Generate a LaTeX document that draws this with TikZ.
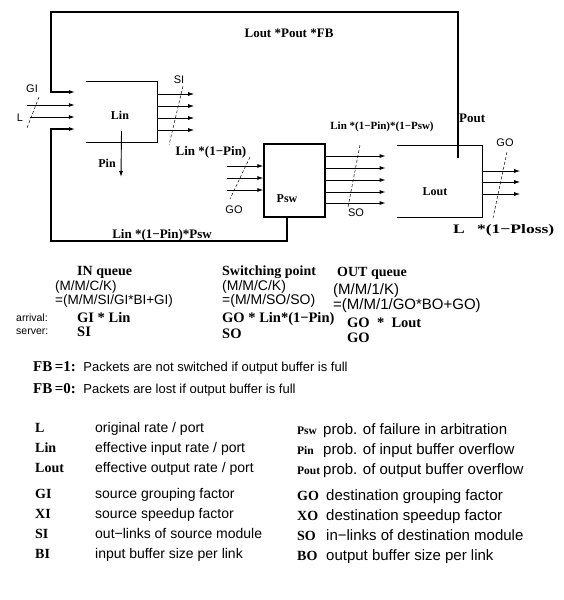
\documentclass[tikz,border=0pt]{standalone}
\usepackage{fontspec}
\usepackage{graphicx}
\setmainfont{Liberation Serif}
\setsansfont{Liberation Sans}
\usetikzlibrary{arrows.meta}

\tikzset{
  var/.style={font=\bfseries\fontsize{12}{12}\selectfont,inner sep=0pt},
  lab/.style={font=\bfseries\fontsize{13}{13}\selectfont,inner sep=0pt},
  tag/.style={font=\sffamily\fontsize{11}{11}\selectfont,inner sep=0pt},
  head/.style={font=\bfseries\fontsize{14}{14}\selectfont,inner sep=0pt,anchor=west},
  rate/.style={font=\bfseries\fontsize{14.5}{14.5}\selectfont,inner sep=0pt,anchor=west},
  kend/.style={font=\sffamily\fontsize{13.5}{12}\selectfont,inner sep=0pt,anchor=west,align=left},
  role/.style={font=\sffamily\fontsize{10.5}{10.5}\selectfont,inner sep=0pt,anchor=west},
  sym/.style={font=\bfseries\fontsize{11.5}{11.5}\selectfont,inner sep=0pt,anchor=base west},
  bsym/.style={font=\bfseries\fontsize{14}{14}\selectfont,inner sep=0pt,anchor=base west},
  desc/.style={font=\sffamily\fontsize{14}{14}\selectfont,inner sep=0pt,anchor=base west},
  rdesc/.style={font=\sffamily\fontsize{15}{15}\selectfont,inner sep=0pt,anchor=base west},
  flow/.style={-{Latex[length=6pt,width=4pt]},line width=0.9pt},
  loopline/.style={-{Latex[length=6pt,width=4pt]},line width=1.1pt},
  group/.style={densely dashed,line width=0.5pt},
  queue/.style={line width=1.3pt},
}

\begin{document}
\begin{tikzpicture}[x=1pt,y=-1pt]
    \useasboundingbox (0,0) rectangle (563,600);
    % input queue
    \node[minimum width=71pt,minimum height=60pt,inner sep=0pt] (lin) at (121.5,112) {};
    \draw[queue] (lin.north west) -- (lin.north east) -- (lin.south east) -- (lin.south west);
    \node[var] (linl) at (120,115) {Lin};
    \foreach \y/\s in {105/27,117/30}
      \draw[flow] (\s,\y) -- ([xshift=-11pt]lin.west |- 0,\y);
    \draw[group] (39,97) -- (27,128);
    \node[tag] (gi) at (32,89) {GI};
    \node[tag] (l) at (20,118) {L};
    \foreach \y in {94,106,118,130}
      \draw[flow] (lin.east |- 0,\y) -- ++(37,0);
    \draw[group] (183,86) -- (169,145);
    \node[tag] (si) at (179,80) {SI};
    \node[lab] (linpin) at (211,152) {Lin *(1−Pin)};
    \coordinate (pinend) at (121,177);
    \draw[flow] ([yshift=-19pt]lin.center) -- (pinend);
    \node[var] (pin) at (107,163) {Pin};
    % switching point
    \node[draw,queue,minimum width=61pt,minimum height=73pt,inner sep=0pt] (psw) at (294.5,180.5) {};
    \node[var] (pswl) at (287,199) {Psw};
    \foreach \y in {166,178,190}
      \draw[flow] (227,\y) -- (psw.west |- 0,\y);
    \draw[group] (250,157) -- (230,199);
    \node[tag] (goin) at (234,210) {GO};
    \foreach \y in {156,168,180,192,203}
      \draw[flow] (psw.east |- 0,\y) -- ++(60,0);
    \draw[group] (360,145) -- (348,207);
    \node[tag] (so) at (356,213) {SO};
    \node[var,font=\bfseries\fontsize{11}{11}\selectfont] (linpsw) at (382,127) {Lin *(1−Pin)*(1−Psw)};
    % output queue
    \node[minimum width=85pt,minimum height=71pt,inner sep=0pt] (lout) at (439.5,181.5) {};
    \draw[queue] (lout.north west) -- (lout.north east) -- (lout.south east) -- (lout.south west);
    \node[var] (loutl) at (435,192) {Lout};
    \foreach \y in {171,182,194}
      \draw[flow] (lout.east |- 0,\y) -- ++(38,0);
    \draw[group] (507,152) -- (493,218);
    \node[tag] (goout) at (505,143) {GO};
    \node[lab,anchor=west] (ploss) at (453,230) {\scalebox{1.35}[1]{L\hspace{9pt}*(1−Ploss)}};
    % feedback loops
    \coordinate (tap) at (458,158);
    \coordinate (fbin) at (75,92);
    \coordinate (swin) at (75,129);
    \draw[loopline] (tap) |- (51,12) |- (fbin);
    \draw[loopline] ([xshift=-7.5pt]psw.south) |- (51,241) |- (swin);
    \node[lab,anchor=west] (pout) at (459,118) {Pout};
    \node[lab] (fb) at (289,33) {Lout *Pout *FB};
    \node[lab] (linback) at (162,235) {Lin *(1−Pin)*Psw};
    % queue models
    \node[head] (inq) at (77,272) {IN queue};
    \node[kend] (inkend) at (55,294) {(M/M/C/K)\\=(M/M/SI/GI*BI+GI)};
    \node[head] (swq) at (222,272) {Switching point};
    \node[kend,font=\sffamily\fontsize{14}{12}\selectfont] (swkend) at (222,294) {(M/M/C/K)\\=(M/M/SO/SO)};
    \node[head] (outq) at (337,273) {OUT queue};
    \node[kend,font=\sffamily\fontsize{15}{12.5}\selectfont] (outkend) at (333,298) {(M/M/1/K)\\=(M/M/1/GO*BO+GO)};
    \node[role] (arr) at (16,318) {arrival:};
    \node[role] (srv) at (16,332) {server:};
    \node[rate] (inarr) at (77,318) {GI * Lin};
    \node[rate] (insrv) at (77,332) {SI};
    \node[rate] (swarr) at (222,319) {GO * Lin*(1−Pin)};
    \node[rate] (swsrv) at (222,334) {SO};
    \node[rate] (outarr) at (347,323) {GO \ * \ Lout};
    \node[rate] (outsrv) at (347,338) {GO};
    % feedback switch
    \node[rate,font=\bfseries\fontsize{15}{15}\selectfont] (fb1) at (33,368) {FB\,=1:\, \mdseries\sffamily\fontsize{13}{13}\selectfont Packets are not switched if output buffer is full};
    \node[rate,font=\bfseries\fontsize{15}{15}\selectfont] (fb0) at (33,390) {FB\,=0:\, \mdseries\sffamily\fontsize{13}{13}\selectfont Packets are lost if output buffer is full};
    % glossary
    \foreach \n/\d/\y in {L/{original rate / port}/432,Lin/{effective input rate / port}/452,
        Lout/{effective output rate / port}/472,GI/{source grouping factor}/498,
        XI/{source speedup factor}/518,SI/{out−links of source module}/538,
        BI/{input buffer size per link}/558}{
      \node[bsym] (n\n) at (35,\y) {\n};
      \node[desc] (d\n) at (95,\y) {\d};
    }
    \foreach \n/\d/\y/\x/\s in {Psw/{prob. of failure in arbitration}/434/323/sym,
        Pin/{prob. of input buffer overflow}/454/323/sym,
        Pout/{prob. of output buffer overflow}/474/323/sym,
        GO/{destination grouping factor}/500/326/bsym,XO/{destination speedup factor}/520/326/bsym,
        SO/{in−links of destination module}/540/326/bsym,BO/{output buffer size per link}/560/326/bsym}{
      \node[\s] (m\n) at (297,\y) {\n};
      \node[rdesc] (e\n) at (\x,\y) {\d};
    }
\end{tikzpicture}
\end{document}
